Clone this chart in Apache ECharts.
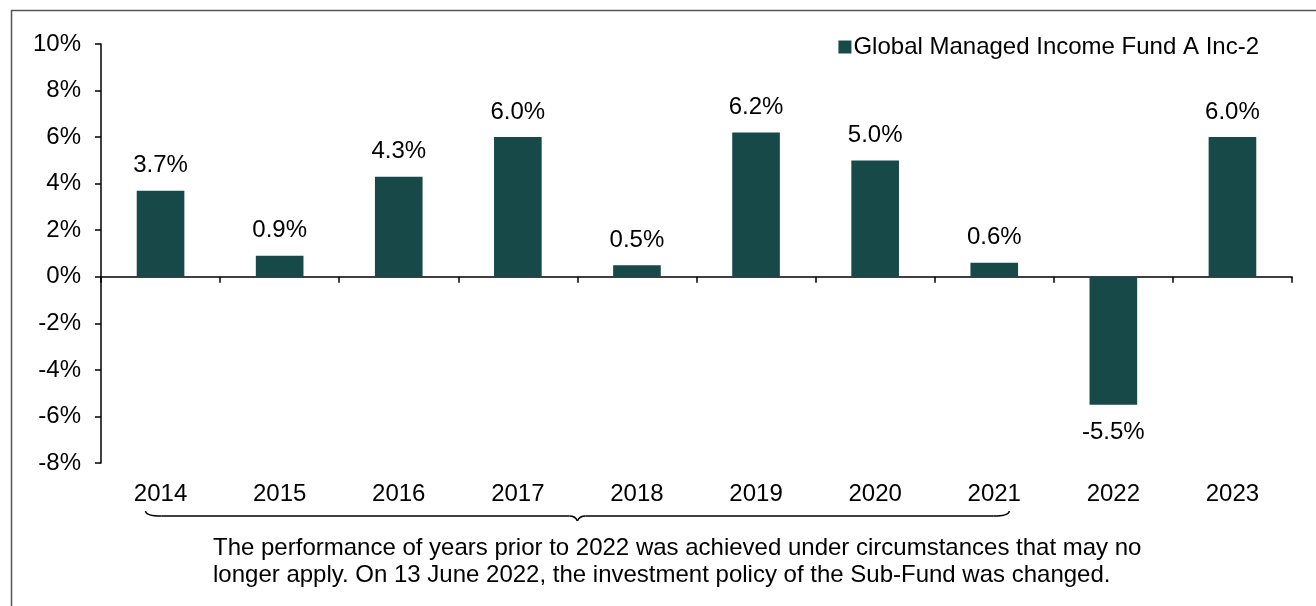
<!DOCTYPE html>
<html>
<head>
<meta charset="utf-8">
<script src="https://cdn.jsdelivr.net/npm/echarts@6/dist/echarts.min.js"></script>
<style>
  html, body { margin: 0; padding: 0; background: #fff; }
  #chart { width: 1316px; height: 606px; }
</style>
</head>
<body>
<div id="chart"></div>
<script>
var years = ['2014', '2015', '2016', '2017', '2018', '2019', '2020', '2021', '2022', '2023'];
var returns = [3.7, 0.9, 4.3, 6.0, 0.5, 6.2, 5.0, 0.6, -5.5, 6.0];
var seriesName = 'Global Managed Income Fund A Inc-2';
var noteLines = [
  'The performance of years prior to 2022 was achieved under circumstances that may no',
  'longer apply. On 13 June 2022, the investment policy of the Sub-Fund was changed.'
];

var FONT = '"Liberation Sans", Arial, sans-serif';
var BAR = '#174948';
var chart = echarts.init(document.getElementById('chart'));

chart.setOption({
  animation: false,
  textStyle: {fontFamily: FONT},
  grid: {left: 101, right: 24, top: 44, bottom: 143},
  legend: {
    right: 52, top: 30,
    itemWidth: 13, itemHeight: 13, itemGap: 5,
    icon: 'rect',
    textStyle: {fontSize: 24, color: '#000', fontFamily: FONT, padding: [0, 0, 0, -3]},
    data: [seriesName]
  },
  xAxis: [{
    type: 'category',
    data: years,
    axisLine: {onZero: true, lineStyle: {color: '#000', width: 1.5}},
    axisTick: {show: true, length: 6, lineStyle: {color: '#000', width: 1.5}},
    axisLabel: {show: false}
  }, {
    type: 'category',
    data: years,
    position: 'bottom',
    axisLine: {show: false, onZero: false},
    axisTick: {show: false},
    axisLabel: {fontSize: 24, color: '#000', margin: 19, fontFamily: FONT}
  }],
  yAxis: {
    type: 'value',
    min: -8, max: 10, interval: 2,
    axisLine: {show: true, lineStyle: {color: '#000', width: 1.5}},
    axisTick: {show: true, inside: false, length: 6, lineStyle: {color: '#000', width: 1.5}},
    axisLabel: {fontSize: 24, color: '#000', margin: 20, fontFamily: FONT,
      formatter: function(v) { return v + '%'; }},
    splitLine: {show: false}
  },
  series: [{
    name: seriesName,
    type: 'bar',
    barWidth: '40%',
    itemStyle: {color: BAR},
    data: returns.map(function(v) {
      return {
        value: v,
        label: {position: v < 0 ? 'bottom' : 'top', distance: v < 0 ? 16 : 13}
      };
    }),
    label: {
      show: true,
      fontSize: 24,
      color: '#000',
      fontFamily: FONT,
      formatter: function(p) { return p.value.toFixed(1) + '%'; }
    }
  }]
});

// bracket under 2014..2021, placed from the category scale
var left = chart.convertToPixel({xAxisIndex: 0}, years[0]) - 15;
var right = chart.convertToPixel({xAxisIndex: 0}, years[7]) + 15;
var mid = (left + right) / 2;
var y = 516;
var braceStyle = {stroke: '#000', fill: null, lineWidth: 1.5};

chart.setOption({
  graphic: [
    {type: 'line', shape: {x1: 11.5, y1: 10, x2: 11.5, y2: 606}, style: {stroke: '#555', lineWidth: 1.5}},
    {type: 'line', shape: {x1: 11, y1: 10.5, x2: 1316, y2: 10.5}, style: {stroke: '#555', lineWidth: 1.5}},
    {type: 'bezierCurve', shape: {x1: left, y1: y - 5, cpx1: left, cpy1: y, x2: left + 16, y2: y}, style: braceStyle},
    {type: 'line', shape: {x1: left + 16, y1: y, x2: mid - 8, y2: y}, style: braceStyle},
    {type: 'bezierCurve', shape: {x1: mid - 8, y1: y, cpx1: mid - 2, cpy1: y, x2: mid, y2: y + 5}, style: braceStyle},
    {type: 'bezierCurve', shape: {x1: mid, y1: y + 5, cpx1: mid + 2, cpy1: y, x2: mid + 8, y2: y}, style: braceStyle},
    {type: 'line', shape: {x1: mid + 8, y1: y, x2: right - 16, y2: y}, style: braceStyle},
    {type: 'bezierCurve', shape: {x1: right - 16, y1: y, cpx1: right, cpy1: y, x2: right, y2: y - 5}, style: braceStyle},
    {type: 'text', x: 213, y: 535, style: {
      text: noteLines.join('\n'), fill: '#000', font: '24px ' + FONT,
      align: 'left', lineHeight: 27
    }}
  ]
});
</script>
</body>
</html>
